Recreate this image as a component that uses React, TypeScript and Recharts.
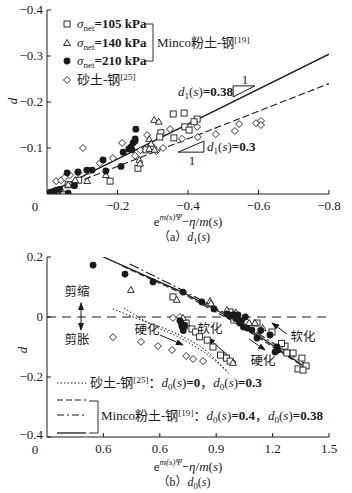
import React from "react";
import {
  ComposedChart,
  Scatter,
  Line,
  XAxis,
  YAxis,
  ReferenceLine,
} from "recharts";

const FONT = '"Liberation Serif", "Noto Sans CJK SC", serif';
const INK = "#1a1a1a";

// ---- (a) d1(s) ----
const xTicksA = [0, -0.2, -0.4, -0.6, -0.8];
const xLabelsA = ["0", "−0.2", "−0.4", "−0.6", "−0.8"];
const yTicksA = [-0.4, -0.3, -0.2, -0.1];
const yLabelsA = ["−0.4", "−0.3", "−0.2", "−0.1"];

const sq105A = [
  [-0.358, -0.174], [-0.389, -0.176], [-0.426, -0.163], [-0.417, -0.157],
  [-0.391, -0.146], [-0.403, -0.139], [-0.323, -0.133], [-0.36, -0.122],
  [-0.32, -0.124], [-0.281, -0.096], [-0.258, -0.056], [-0.179, -0.028],
  [-0.03, -0.008], [-0.06, -0.02], [-0.09, -0.03],
];
const tri140A = [
  [-0.304, -0.161], [-0.317, -0.157], [-0.29, -0.119], [-0.295, -0.109],
  [-0.262, -0.074], [-0.264, -0.066], [-0.167, -0.041], [-0.114, -0.028],
  [-0.29, -0.098], [-0.305, -0.096], [-0.06, -0.02], [-0.08, -0.03], [-0.04, -0.01],
];
const circ210A = [
  [0, -0.002], [-0.01, -0.004], [-0.02, -0.006], [-0.035, -0.01], [-0.06, -0.002],
  [-0.078, -0.018], [-0.057, -0.046], [-0.088, -0.048], [-0.113, -0.052],
  [-0.128, -0.052], [-0.159, -0.074], [-0.167, -0.05], [-0.21, -0.06],
  [-0.216, -0.091], [-0.238, -0.102], [-0.241, -0.096], [-0.244, -0.111],
  [-0.25, -0.12], [-0.252, -0.141], [-0.232, -0.098], [-0.25, -0.115],
];
const sandA = [
  [-0.102, -0.1], [-0.026, -0.028], [-0.04, -0.03], [-0.05, -0.036], [-0.065, -0.041],
  [-0.088, -0.046], [-0.12, -0.05], [-0.15, -0.067], [-0.187, -0.078],
  [-0.213, -0.111], [-0.25, -0.083], [-0.284, -0.128], [-0.301, -0.102],
  [-0.329, -0.1], [-0.349, -0.141], [-0.383, -0.12], [-0.426, -0.146],
  [-0.428, -0.124], [-0.479, -0.13], [-0.533, -0.137], [-0.545, -0.152],
  [-0.593, -0.154], [-0.607, -0.159], [-0.607, -0.15], [-0.265, -0.095], [-0.31, -0.093],
];
const fit038A = [[0, 0], [-0.8, -0.304]];
const fit030A = [[0, 0], [-0.8, -0.24]];

// ---- (b) d0(s) ----
const xTicksB = [0, 0.3, 0.6, 0.9, 1.2, 1.5];
const xLabelsB = ["0", "0.6", "0.6", "0.9", "1.2", "1.5"];
const yTicksB = [0.2, 0, -0.2, -0.4];
const yLabelsB = ["0.2", "0", "−0.2", "−0.4"];

const circB = [
  [0.245, 0.173], [0.415, 0.143], [0.564, 0.117], [0.723, 0.083], [0.824, 0.05],
  [0.888, 0.027], [0.707, -0.012], [0.715, -0.022], [0.718, -0.032], [0.725, -0.045],
  [0.73, -0.028], [0.957, 0.01], [0.973, 0.003], [0.993, 0.008], [1.016, 0.007],
  [1.003, -0.005], [1.035, -0.012], [1.055, 0.0], [1.045, -0.033], [1.065, -0.037],
  [1.09, -0.043], [1.117, -0.07], [1.137, -0.045], [1.186, -0.06], [1.223, -0.1],
  [1.213, -0.117], [1.228, -0.11], [1.025, -0.02],
];
const sqB = [
  [0.67, 0.067], [0.973, 0.017], [0.984, 0.005], [0.994, -0.01], [1.117, -0.02],
  [1.197, -0.05], [1.266, -0.097], [1.276, -0.12], [1.309, -0.12], [1.356, -0.137],
  [1.378, -0.163], [1.335, -0.173], [1.362, -0.177], [1.248, -0.088],
  [0.74, -0.02], [0.771, -0.04], [0.791, -0.05], [0.812, -0.066], [0.852, -0.077],
  [0.883, -0.1], [0.923, -0.127], [0.954, -0.137], [0.974, -0.147], [0.73, -0.03],
];
const triB = [
  [0.446, 0.09], [0.69, 0.057], [0.867, 0.053], [0.872, 0.045], [1.106, -0.02],
  [1.147, -0.037], [0.723, -0.003], [0.957, 0.023], [0.989, -0.153], [1.075, -0.02],
  [1.004, 0.015],
];
const sandB = [
  [0.351, -0.067], [0.5, -0.083], [0.59, -0.097], [0.665, -0.11], [0.74, -0.13],
  [0.777, -0.14], [0.83, -0.147], [0.67, -0.003], [0.707, 0.0], [0.987, -0.15], [0.947, -0.133],
];
const mincoSolidB = [[0.275, 0.207], [0.72, 0.083], [1.0, -0.01], [1.37, -0.165]];
const mincoDashDotB = [[0.44, 0.177], [0.72, 0.09], [1.0, -0.005], [1.37, -0.155]];
const mincoDashedB = [[0.4, 0.17], [0.72, 0.078], [1.0, -0.018], [1.38, -0.172]];
const sandCurve1B = [[0.35, 0.027], [0.5, -0.01], [0.68, -0.053], [0.84, -0.11], [0.96, -0.183]];
const sandCurve2B = [[0.41, 0.03], [0.54, -0.02], [0.73, -0.077], [0.87, -0.133], [0.97, -0.19]];

const pts = (arr: number[][]) => arr.map(([x, y]) => ({ x, y }));

const near = (a: number, b: number) => Math.abs(a - b) < 1e-9;

// marker shapes, kept small like the printed figure
const sw = 0.9;
const squareShape = ({ cx, cy }: any) => (
  <rect x={cx - 3} y={cy - 3} width={6} height={6} fill="#fff" stroke={INK} strokeWidth={sw} />
);
const triangleShape = ({ cx, cy }: any) => (
  <path d={`M${cx},${cy - 3.6} L${cx + 3.4},${cy + 2.4} L${cx - 3.4},${cy + 2.4} Z`} fill="#fff" stroke={INK} strokeWidth={sw} />
);
const diamondShape = ({ cx, cy }: any) => (
  <path d={`M${cx},${cy - 3.5} L${cx + 3.5},${cy} L${cx},${cy + 3.5} L${cx - 3.5},${cy} Z`} fill="#fff" stroke={INK} strokeWidth={sw} />
);
const dotShape = ({ cx, cy }: any) => <circle cx={cx} cy={cy} r={3.4} fill={INK} />;

const xTick = (values: number[], labels: string[]) => (props: any) => {
  const { x, y, payload } = props;
  const i = values.findIndex((v) => near(v, payload.value));
  const zero = near(payload.value, 0);
  return (
    <g>
      {!zero && <line x1={x} y1={y} x2={x} y2={y - 4} stroke={INK} />}
      <text x={zero ? x - 12 : x} y={y + (zero ? 17 : 16)} textAnchor="middle" fontSize={13} fontFamily={FONT} fill={INK}>
        {labels[i]}
      </text>
    </g>
  );
};

// lowest label sits a bit higher so it clears the "0" of the x axis
const yTick = (values: number[], labels: string[], lowest?: number) => (props: any) => {
  const { x, y, payload } = props;
  const i = values.findIndex((v) => near(v, payload.value));
  const dy = lowest !== undefined && near(payload.value, lowest) ? 1.5 : 4;
  return (
    <g>
      <line x1={x} y1={y} x2={x + 4} y2={y} stroke={INK} />
      <text x={x - 4} y={y + dy} textAnchor="end" fontSize={13} fontFamily={FONT} fill={INK}>
        {labels[i]}
      </text>
    </g>
  );
};

function T({ x, y, children, align = "center", size = 13, style }: any) {
  const tx = align === "center" ? "-50%" : align === "right" ? "-100%" : "0";
  return (
    <div
      style={{
        position: "absolute",
        left: x,
        top: y,
        transform: `translate(${tx},-50%)`,
        whiteSpace: "nowrap",
        fontSize: size,
        lineHeight: 1,
        color: INK,
        ...style,
      }}
    >
      {children}
    </div>
  );
}

const Sub = ({ children }: any) => (
  <span style={{ fontSize: "0.7em", position: "relative", top: "0.3em", fontStyle: "normal" }}>{children}</span>
);
const Sup = ({ children }: any) => (
  <span style={{ fontSize: "0.7em", position: "relative", top: "-0.45em" }}>{children}</span>
);

const Sigma = ({ v }: { v: string }) => (
  <span>
    <i>σ</i>
    <Sub>net</Sub>
    <b>={v} kPa</b>
  </span>
);

const dfun = (n: string) => (
  <span>
    <i>d</i>
    <Sub>{n}</Sub>(<i>s</i>)
  </span>
);

const Formula = () => (
  <span>
    e
    <span style={{ fontSize: 9, fontStyle: "italic", position: "relative", top: "-0.7em" }}>m(s)Ψ</span>−<i>η</i>/<i>m</i>(<i>s</i>)
  </span>
);

const axisCommon = {
  type: "number" as const,
  interval: 0 as const,
  tickLine: false,
  tickSize: 0,
  tickMargin: 0,
  axisLine: { stroke: INK },
  allowDataOverflow: true,
};

export default function App() {
  return (
    <div
      style={{
        position: "absolute",
        left: 0,
        top: 0,
        width: 352,
        height: 493,
        background: "#fff",
        fontFamily: FONT,
        overflow: "hidden",
      }}
    >
      {/* (a) */}
      <div style={{ position: "absolute", left: 0, top: 0 }}>
        <ComposedChart width={352} height={240} margin={{ top: 10, right: 23, left: 17, bottom: 16 }}>
          <XAxis {...axisCommon} dataKey="x" domain={[-0.8, 0]} reversed ticks={xTicksA} tick={xTick(xTicksA, xLabelsA)} height={30} />
          <YAxis {...axisCommon} dataKey="y" domain={[-0.4, 0]} reversed ticks={yTicksA} tick={yTick(yTicksA, yLabelsA)} width={30} />
          <Line data={pts(fit038A)} dataKey="y" dot={false} stroke={INK} strokeWidth={1.3} isAnimationActive={false} />
          <Line data={pts(fit030A)} dataKey="y" dot={false} stroke={INK} strokeWidth={1.1} strokeDasharray="7 3" isAnimationActive={false} />
          <ReferenceLine segment={[{ x: -0.528, y: -0.235 }, { x: -0.59, y: -0.235 }]} stroke={INK} />
          <ReferenceLine segment={[{ x: -0.528, y: -0.235 }, { x: -0.528, y: -0.211 }]} stroke={INK} />
          <ReferenceLine segment={[{ x: -0.528, y: -0.211 }, { x: -0.59, y: -0.235 }]} stroke={INK} />
          <ReferenceLine segment={[{ x: -0.372, y: -0.091 }, { x: -0.445, y: -0.091 }]} stroke={INK} />
          <ReferenceLine segment={[{ x: -0.445, y: -0.091 }, { x: -0.445, y: -0.115 }]} stroke={INK} />
          <ReferenceLine segment={[{ x: -0.372, y: -0.091 }, { x: -0.445, y: -0.115 }]} stroke={INK} />
          <Scatter data={pts(sandA)} shape={diamondShape} isAnimationActive={false} />
          <Scatter data={pts(sq105A)} shape={squareShape} isAnimationActive={false} />
          <Scatter data={pts(tri140A)} shape={triangleShape} isAnimationActive={false} />
          <Scatter data={pts(circ210A)} shape={dotShape} isAnimationActive={false} />
        </ComposedChart>
      </div>

      {/* (b) */}
      <div style={{ position: "absolute", left: 0, top: 240 }}>
        <ComposedChart width={352} height={253} margin={{ top: 17, right: 23, left: 17, bottom: 26 }}>
          <defs>
            <marker id="ah" markerWidth="8" markerHeight="6" refX="7" refY="3" orient="auto-start-reverse" markerUnits="userSpaceOnUse">
              <path d="M0,0 L8,3 L0,6 z" fill={INK} />
            </marker>
          </defs>
          <XAxis {...axisCommon} dataKey="x" domain={[0, 1.5]} ticks={xTicksB} tick={xTick(xTicksB, xLabelsB)} height={30} />
          <YAxis {...axisCommon} dataKey="y" domain={[-0.4, 0.2]} ticks={yTicksB} tick={yTick(yTicksB, yLabelsB, -0.4)} width={30} />
          <ReferenceLine y={0} stroke={INK} strokeDasharray="9 6" />
          <Line data={pts(mincoSolidB)} dataKey="y" dot={false} stroke={INK} strokeWidth={1.3} isAnimationActive={false} />
          <Line data={pts(mincoDashDotB)} dataKey="y" dot={false} stroke={INK} strokeWidth={1.1} strokeDasharray="10 3 2 3" isAnimationActive={false} />
          <Line data={pts(mincoDashedB)} dataKey="y" dot={false} stroke={INK} strokeWidth={1.1} strokeDasharray="6 3" isAnimationActive={false} />
          <Line data={pts(sandCurve1B)} dataKey="y" type="monotone" dot={false} stroke={INK} strokeWidth={1} strokeDasharray="1.5 2" isAnimationActive={false} />
          <Line data={pts(sandCurve2B)} dataKey="y" type="monotone" dot={false} stroke={INK} strokeWidth={1} strokeDasharray="1.5 2" isAnimationActive={false} />
          <ReferenceLine segment={[{ x: 0.601, y: -0.06 }, { x: 0.723, y: -0.093 }]} stroke={INK} markerEnd="url(#ah)" />
          <ReferenceLine segment={[{ x: 0.973, y: -0.133 }, { x: 0.856, y: -0.07 }]} stroke={INK} markerEnd="url(#ah)" />
          <ReferenceLine segment={[{ x: 1.277, y: -0.057 }, { x: 1.197, y: -0.02 }]} stroke={INK} markerEnd="url(#ah)" />
          <ReferenceLine segment={[{ x: 1.074, y: -0.073 }, { x: 1.16, y: -0.11 }]} stroke={INK} markerEnd="url(#ah)" />
          <ReferenceLine segment={[{ x: 0.181, y: 0.047 }, { x: 0.181, y: -0.043 }]} stroke={INK} markerStart="url(#ah)" markerEnd="url(#ah)" />
          <Scatter data={pts(sandB)} shape={diamondShape} isAnimationActive={false} />
          <Scatter data={pts(sqB)} shape={squareShape} isAnimationActive={false} />
          <Scatter data={pts(triB)} shape={triangleShape} isAnimationActive={false} />
          <Scatter data={pts(circB)} shape={dotShape} isAnimationActive={false} />
        </ComposedChart>
      </div>

      {/* legend samples & brackets */}
      <svg width={352} height={493} style={{ position: "absolute", left: 0, top: 0, pointerEvents: "none" }}>
        <rect x={64} y={21} width={6} height={6} fill="#fff" stroke={INK} strokeWidth={0.9} />
        <path d="M67,39.5 L70.4,45.5 L63.6,45.5 Z" fill="#fff" stroke={INK} strokeWidth={0.9} />
        <circle cx={67} cy={61} r={3.4} fill={INK} />
        <path d="M67,76.5 L70.5,80 L67,83.5 L63.5,80 Z" fill="#fff" stroke={INK} strokeWidth={0.9} />
        <path d="M145,24 H153 V61 H145" fill="none" stroke={INK} strokeWidth={0.9} />

        <line x1={57} y1={383} x2={86} y2={383} stroke={INK} strokeDasharray="1.5 2" />
        <line x1={57} y1={400} x2={86} y2={400} stroke={INK} strokeDasharray="6 3" strokeWidth={1.1} />
        <line x1={57} y1={415} x2={86} y2={415} stroke={INK} strokeDasharray="7 3 2 3" strokeWidth={1.1} />
        <line x1={57} y1={433} x2={86} y2={433} stroke={INK} strokeWidth={1.3} />
        <path d="M89,401 H98 V433 H89" fill="none" stroke={INK} strokeWidth={0.9} />
      </svg>

      {/* (a) texts */}
      <T x={77} y={24} align="left"><Sigma v="105" /></T>
      <T x={77} y={43} align="left"><Sigma v="140" /></T>
      <T x={77} y={61} align="left"><Sigma v="210" /></T>
      <T x={77} y={80} align="left">砂土-钢<Sup>[25]</Sup></T>
      <T x={157} y={43} align="left">Minco粉土-钢<Sup>[19]</Sup></T>
      <T x={178} y={92} align="left">{dfun("1")}<b>=0.38</b></T>
      <T x={245} y={79}>1</T>
      <T x={207} y={147} align="left">{dfun("1")}<b>=0.3</b></T>
      <T x={192} y={160}>1</T>
      <T x={12} y={101} style={{ transform: "translate(-50%,-50%) rotate(-90deg)" }}><i>d</i></T>
      <T x={188} y={221}><Formula /></T>
      <T x={184} y={237} size={12}>（a）{dfun("1")}</T>

      {/* (b) texts */}
      <T x={77} y={292} size={12.5}>剪缩</T>
      <T x={77} y={340} size={12.5}>剪胀</T>
      <T x={147} y={330} size={12.5}>硬化</T>
      <T x={210} y={329} size={12.5}>软化</T>
      <T x={303} y={337} size={12.5}>软化</T>
      <T x={263} y={361} size={12.5}>硬化</T>
      <T x={90} y={383} align="left">砂土-钢<Sup>[25]</Sup>：{dfun("0")}<b>=0</b>，{dfun("0")}<b>=0.3</b></T>
      <T x={101} y={416} align="left">Minco粉土-钢<Sup>[19]</Sup>：{dfun("0")}<b>=0.4</b>，{dfun("0")}<b>=0.38</b></T>
      <T x={22} y={350} style={{ transform: "translate(-50%,-50%) rotate(-90deg)" }}><i>d</i></T>
      <T x={188} y={466}><Formula /></T>
      <T x={184} y={482} size={12}>（b）{dfun("0")}</T>
    </div>
  );
}
